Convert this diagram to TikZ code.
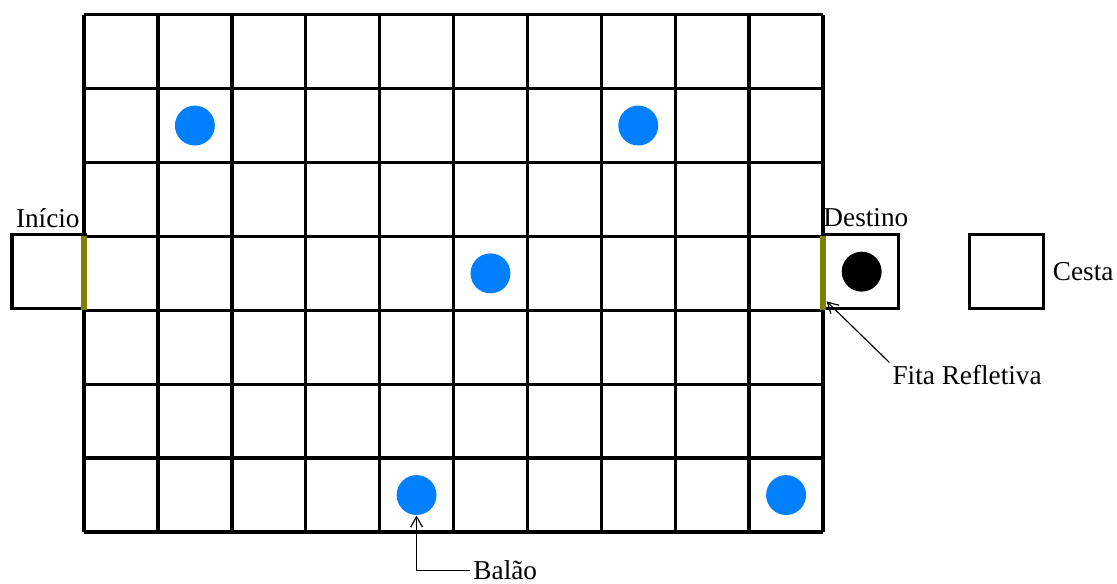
\documentclass[tikz,border=0pt]{standalone}
\usepackage{fontspec}
\setmainfont{Liberation Serif}
\usetikzlibrary{arrows.meta,calc,positioning}
\definecolor{balloonblue}{RGB}{0,128,255}
\definecolor{tapeolive}{RGB}{128,128,0}
\tikzset{
  grid line/.style={line width=1.3pt},
  cell box/.style={draw,line width=1.3pt,minimum size=1cm,inner sep=0pt},
  balloon/.style={circle,fill=balloonblue,minimum size=5.4mm,inner sep=0pt},
  target ball/.style={circle,fill=black,minimum size=5.4mm,inner sep=0pt},
  tape/.style={draw=tapeolive,line width=2.4pt},
  label text/.style={font=\fontsize{10.5}{12}\selectfont,inner sep=1pt},
  pointer/.style={-{Straight Barb[length=1.4mm,width=1.6mm]},line width=0.45pt},
}

\begin{document}
\begin{tikzpicture}[x=1cm,y=1cm]
  \useasboundingbox (-1.137,-0.690) rectangle (13.978,7.199);
  % board
  \draw[grid line] (0,0) grid (10,7);
  \node[cell box,anchor=south west] (start) at (-1,3) {};
  \node[cell box,anchor=south west] (goal) at (10,3) {};
  \node[cell box,anchor=south west] (basket) at (11.96,3) {};
  % reflective tape
  \draw[tape] (0,3) -- (0,4);
  \draw[tape] (10,3) -- (10,4);
  % balloons
  \foreach \bx/\by [count=\i] in {1.5/5.5,7.5/5.5,5.5/3.5,4.5/0.5,9.5/0.5}
    \node[balloon] (b\i) at (\bx,\by) {};
  \node[target ball] (ball) at (goal.center) {};
  % labels
  \node[label text] (inicio) at (-0.49,4.25) {Início};
  \node[label text] (destino) at (10.58,4.25) {Destino};
  \node[label text] (cesta) at (13.52,3.52) {Cesta};
  \node[label text] (fita) at (11.95,2.12) {Fita Refletiva};
  \node[label text] (balao) at (5.70,-0.52) {Balão};
  \coordinate (tapetip) at (10.05,3.12);
  \draw[pointer] (fita.north west) -- (tapetip);
  \draw[pointer] (balao.west) -| (b4.south);
\end{tikzpicture}
\end{document}
